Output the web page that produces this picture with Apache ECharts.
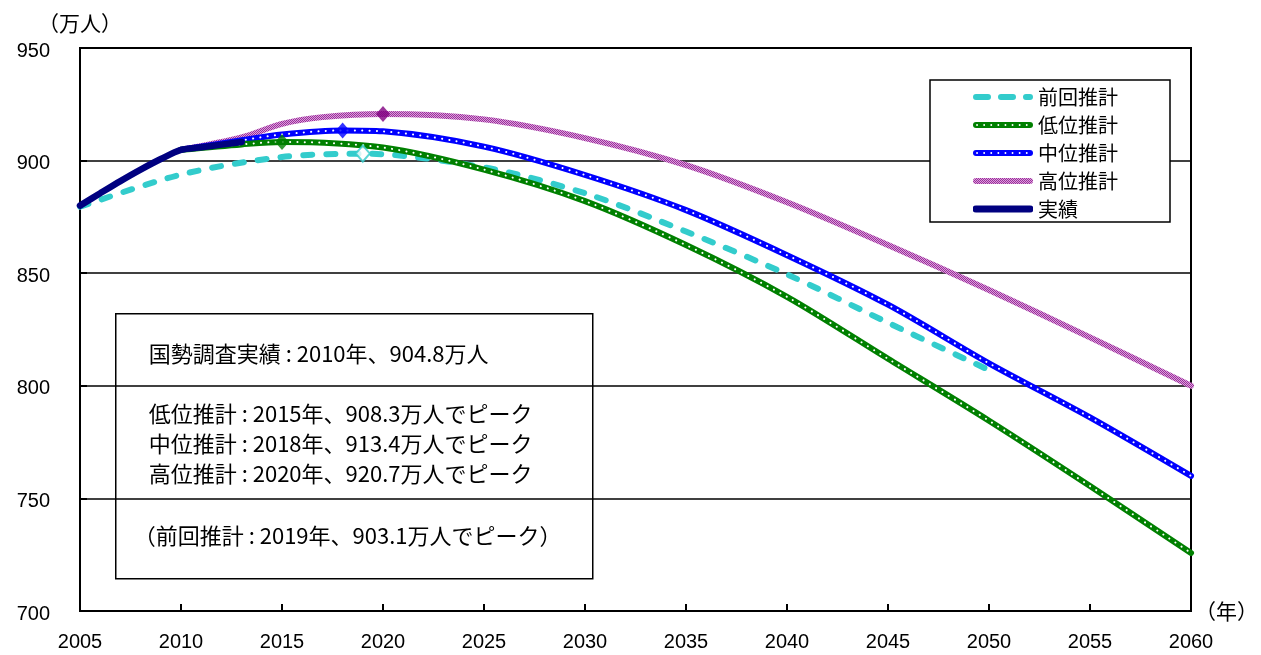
<!DOCTYPE html>
<html><head><meta charset="utf-8">
<script src="https://cdn.jsdelivr.net/npm/echarts@6/dist/echarts.min.js"></script>
<style>html,body{margin:0;padding:0;background:#fff}#c{width:1261px;height:655px}</style>
</head><body><div id="c"></div>
<script>
// ---- data ----
const seriesNames = ['前回推計', '低位推計', '中位推計', '高位推計', '実績'];
const prevYears = [2005, 2010, 2015, 2019, 2025, 2030, 2035, 2040, 2045, 2050];
const prevValues = [879.5, 893.8, 901.6, 903.1, 897.0, 885.5, 868.5, 849.5, 828.0, 807.0];
const lowYears = [2010, 2013, 2015, 2020, 2025, 2030, 2035, 2040, 2045, 2050, 2055, 2060];
const lowValues = [904.8, 907.2, 908.3, 905.8, 896.0, 882.0, 862.5, 839.5, 812.0, 784.5, 755.5, 725.8];
const midYears = [2010, 2013, 2015, 2018, 2020, 2025, 2030, 2035, 2040, 2045, 2050, 2055, 2060];
const midValues = [904.8, 909.0, 911.6, 913.4, 913.0, 906.2, 893.6, 878.0, 858.0, 836.0, 810.0, 786.0, 760.0];
const highYears = [2010, 2013, 2015, 2017, 2020, 2025, 2030, 2035, 2040, 2045, 2050, 2055, 2060];
const highValues = [904.8, 910.3, 916.3, 919.3, 920.7, 918.3, 910.0, 898.0, 881.5, 862.5, 842.5, 821.5, 800.0];
const actualYears = [2005, 2006, 2007, 2008, 2009, 2010, 2011, 2012, 2013];
const actualValues = [880.0, 885.5, 890.9, 896.0, 900.7, 904.8, 905.9, 907.1, 908.3];
const peakYears = [2019, 2015, 2018, 2020];
const peakValues = [903.1, 908.3, 913.4, 920.7];
const xMin = 2005, xMax = 2060, xStep = 5;
const yMin = 700, yMax = 950, yStep = 50;
const noteLines = [
  '国勢調査実績 : 2010年、904.8万人',
  '低位推計 : 2015年、908.3万人でピーク',
  '中位推計 : 2018年、913.4万人でピーク',
  '高位推計 : 2020年、920.7万人でピーク',
  '（前回推計 : 2019年、903.1万人でピーク）'
];

// ---- styles ----
const CJK = "'Noto Sans CJK JP', 'Liberation Sans', sans-serif";
const NUM = "'Liberation Sans', 'Noto Sans CJK JP', sans-serif";
const cPrev = '#33cccc', cLow = '#008000', cMid = '#0000ff', cActual = '#000080';
const hatchDark = '#9a309a', hatchLight = '#dc9edc';
const hatch = document.createElement('canvas');
hatch.width = 2; hatch.height = 2;
(function () {
  const g = hatch.getContext('2d');
  g.fillStyle = hatchLight; g.fillRect(0, 0, 2, 2);
  g.fillStyle = hatchDark; g.fillRect(0, 0, 1, 1); g.fillRect(1, 1, 1, 1);
})();
const cHigh = { image: hatch, repeat: 'repeat' };

// legend icons (60x20 svg)
function svgIcon(body) {
  const s = "<svg xmlns='http://www.w3.org/2000/svg' width='60' height='20' viewBox='0 0 60 20'>" + body + "</svg>";
  return 'image://data:image/svg+xml;charset=utf-8,' + encodeURIComponent(s);
}
const dotted = (c) => "<line x1='3' y1='10' x2='57' y2='10' stroke='" + c + "' stroke-width='6' stroke-linecap='round'/>" +
  "<line x1='4' y1='10' x2='57' y2='10' stroke='#fff' stroke-width='1.8' stroke-dasharray='0.1 7' stroke-linecap='round'/>";
const legendIcons = [
  svgIcon("<line x1='3' y1='10' x2='57' y2='10' stroke='" + cPrev + "' stroke-width='6' stroke-linecap='round' stroke-dasharray='12 13'/>"),
  svgIcon(dotted(cLow)),
  svgIcon(dotted(cMid)),
  svgIcon("<defs><pattern id='p' width='2' height='2' patternUnits='userSpaceOnUse'><rect width='2' height='2' fill='" + hatchLight + "'/><rect width='1' height='1' fill='" + hatchDark + "'/><rect x='1' y='1' width='1' height='1' fill='" + hatchDark + "'/></pattern></defs>" +
    "<line x1='3' y1='10' x2='57' y2='10' stroke='url(#p)' stroke-width='6' stroke-linecap='round'/>"),
  svgIcon("<line x1='3' y1='10' x2='57' y2='10' stroke='" + cActual + "' stroke-width='7' stroke-linecap='round'/>")
];

function pairs(xs, ys) { return xs.map((x, i) => [x, ys[i]]); }
const SM = 0.3;
function lineSeries(name, xs, ys, color, width, type, z) {
  return {
    name: name, type: 'line', data: pairs(xs, ys), smooth: SM, symbol: 'none',
    lineStyle: { color: color, width: width, type: type || 'solid', cap: 'round', join: 'round' },
    itemStyle: { color: color }, z: z, silent: true, animation: false
  };
}
function dotSeries(xs, ys, z) {
  return {
    type: 'line', data: pairs(xs, ys), smooth: SM, symbol: 'none', silent: true, animation: false,
    lineStyle: { color: '#ffffff', width: 2, type: [0.1, 7.2], cap: 'round' }, z: z
  };
}
const peakStyles = [
  { color: '#ffffff', borderColor: cPrev, borderWidth: 2 },
  { color: cLow },
  { color: cMid },
  { color: '#800080' }
];

const chart = echarts.init(document.getElementById('c'), null, { renderer: 'canvas' });
chart.setOption({
  animation: false,
  backgroundColor: '#ffffff',
  grid: { left: 80, right: 65, top: 48, bottom: 44, show: true, borderColor: '#000', borderWidth: 2, backgroundColor: 'transparent' },
  xAxis: {
    type: 'value', min: xMin, max: xMax, interval: xStep,
    name: '（年）', nameLocation: 'end', nameGap: 4,
    nameTextStyle: { fontFamily: CJK, fontSize: 21, color: '#000', verticalAlign: 'middle', align: 'left' },
    axisLine: { show: true, lineStyle: { color: '#000', width: 2 } },
    axisTick: { show: true, inside: true, length: 7, lineStyle: { color: '#000', width: 2 } },
    axisLabel: { fontFamily: NUM, fontSize: 20, color: '#000', margin: 21, formatter: v => String(v) },
    splitLine: { show: false }
  },
  yAxis: {
    type: 'value', min: yMin, max: yMax, interval: yStep,
    name: '（万人）', nameLocation: 'end', nameGap: 14,
    nameTextStyle: { fontFamily: CJK, fontSize: 21, color: '#000', align: 'center' },
    axisLine: { show: true, lineStyle: { color: '#000', width: 2 } },
    axisTick: { show: true, inside: true, length: 7, lineStyle: { color: '#000', width: 2 } },
    axisLabel: { fontFamily: NUM, fontSize: 20, color: '#000', margin: 30, verticalAlign: 'top', padding: [-7, 0, 0, 0] },
    splitLine: { show: true, lineStyle: { color: '#000', width: 1.5 } }
  },
  legend: {
    data: seriesNames.map((n, i) => ({ name: n, icon: legendIcons[i] })),
    orient: 'vertical', left: 930, top: 80,
    padding: [7, 52, 3, 43], itemGap: 8, itemWidth: 60, itemHeight: 20,
    backgroundColor: '#fff', borderColor: '#000', borderWidth: 1.5,
    textStyle: { fontFamily: CJK, fontSize: 20, color: '#000' },
    selectedMode: false, z: 20
  },
  series: [
    lineSeries(seriesNames[0], prevYears, prevValues, cPrev, 6, [9, 14], 2),
    lineSeries(seriesNames[3], highYears, highValues, cHigh, 6, 'solid', 3),
    lineSeries(seriesNames[2], midYears, midValues, cMid, 6, 'solid', 4),
    dotSeries(midYears, midValues, 4),
    lineSeries(seriesNames[1], lowYears, lowValues, cLow, 6, 'solid', 5),
    dotSeries(lowYears, lowValues, 5),
    lineSeries(seriesNames[4], actualYears, actualValues, cActual, 6.5, 'solid', 6),
    {
      type: 'scatter', symbol: 'diamond', symbolSize: [14, 16], z: 7, silent: true, animation: false,
      data: peakYears.map((x, i) => ({ value: [x, peakValues[i]], itemStyle: peakStyles[i] }))
    }
  ],
  graphic: [{
    type: 'group', left: 115, top: 313, z: 30,
    children: [
      { type: 'rect', shape: { x: 0, y: 0, width: 477, height: 265 }, style: { fill: '#fff', stroke: '#000', lineWidth: 1.5 } },
      { type: 'text', x: 33, y: 40, style: { text: noteLines[0], font: "22px " + CJK, fill: '#000', verticalAlign: 'middle' } },
      { type: 'text', x: 33, y: 100, style: { text: noteLines[1], font: "22px " + CJK, fill: '#000', verticalAlign: 'middle' } },
      { type: 'text', x: 33, y: 130, style: { text: noteLines[2], font: "22px " + CJK, fill: '#000', verticalAlign: 'middle' } },
      { type: 'text', x: 33, y: 160, style: { text: noteLines[3], font: "22px " + CJK, fill: '#000', verticalAlign: 'middle' } },
      { type: 'text', x: 18, y: 222, style: { text: noteLines[4], font: "22px " + CJK, fill: '#000', verticalAlign: 'middle' } }
    ]
  }]
});
</script></body></html>
